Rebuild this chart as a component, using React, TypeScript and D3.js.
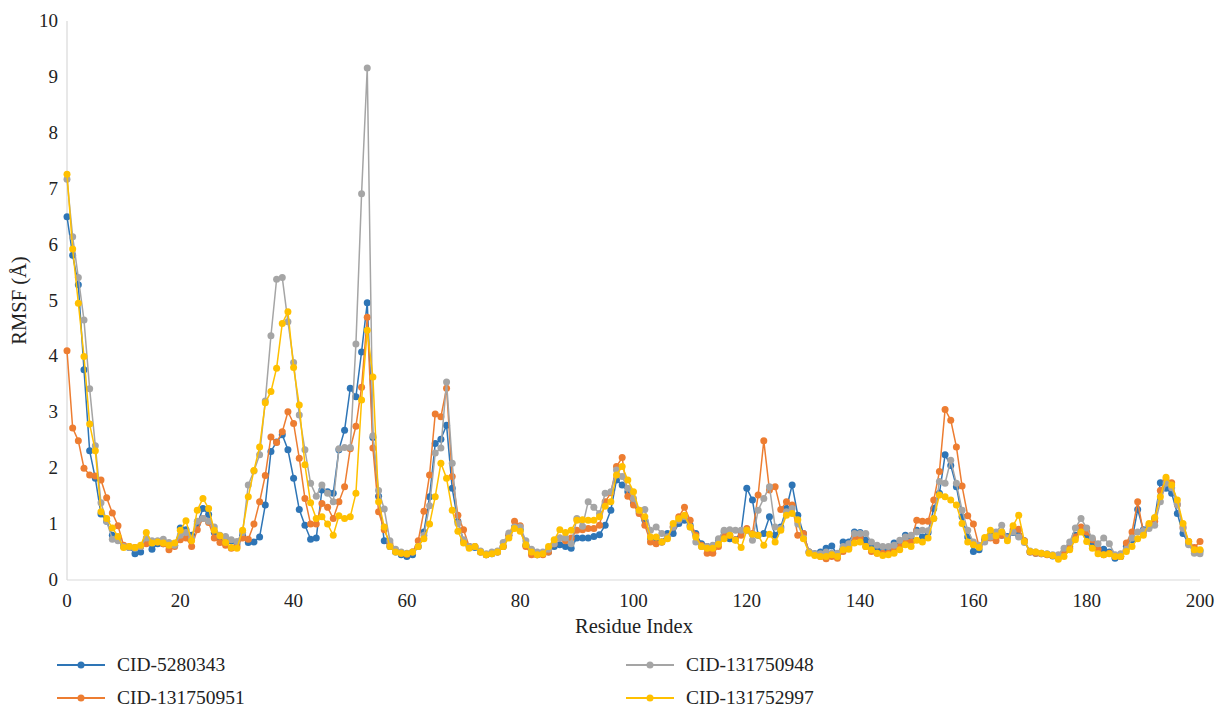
import React from "react";
import * as d3 from "d3";

const seriesNames = ["CID-5280343", "CID-131750951", "CID-131750948", "CID-131752997"];
const seriesColors = ["#2E75B6", "#ED7D31", "#A5A5A5", "#FFC000"];

const cid5280343 = [
  6.5, 5.81, 5.28, 3.76, 2.31, 1.82, 1.18, 1.05, 0.8, 0.72,
  0.6, 0.58, 0.47, 0.5, 0.72, 0.55, 0.65, 0.65, 0.62, 0.62,
  0.93, 0.9, 0.8, 1.0, 1.28, 1.17, 0.85, 0.75, 0.72, 0.7,
  0.65, 0.8, 0.67, 0.68, 0.77, 1.34, 2.3, 2.47, 2.6, 2.33,
  1.82, 1.26, 0.98, 0.73, 0.75, 1.61, 1.58, 1.55, 2.33, 2.68,
  3.43, 3.28, 4.08, 4.96, 2.55, 1.5, 0.7, 0.6, 0.5, 0.45,
  0.42, 0.45, 0.6, 0.86, 1.49, 2.44, 2.52, 2.77, 1.64, 1.05,
  0.7, 0.6, 0.58, 0.5, 0.45, 0.47, 0.5, 0.6, 0.8, 0.95,
  0.9, 0.62, 0.5, 0.45, 0.47, 0.5, 0.6, 0.63, 0.6, 0.57,
  0.75, 0.75, 0.75, 0.78, 0.81, 0.98, 1.25, 1.79, 1.7, 1.58,
  1.37, 1.22, 1.07, 0.75, 0.75, 0.68, 0.83, 0.83, 1.01, 1.07,
  0.98, 0.83, 0.65, 0.6, 0.55, 0.71, 0.86, 0.74, 0.72, 0.86,
  1.64, 1.43, 0.8, 0.83, 1.13, 0.8, 0.95, 1.28, 1.7, 1.16,
  0.83, 0.5, 0.47, 0.5, 0.57, 0.61, 0.45, 0.68, 0.68, 0.86,
  0.85, 0.71, 0.6, 0.57, 0.54, 0.56, 0.66, 0.68, 0.8, 0.77,
  0.89, 0.77, 0.85, 1.28, 1.55, 2.24, 2.05, 1.67, 1.13, 0.77,
  0.51, 0.54, 0.72, 0.8, 0.8, 0.8, 0.78, 0.85, 0.8, 0.7,
  0.5, 0.48, 0.47, 0.46, 0.43, 0.42, 0.5, 0.6, 0.8, 0.88,
  0.8, 0.62, 0.55, 0.55, 0.5, 0.39, 0.42, 0.6, 0.72, 1.26,
  0.9, 0.95, 1.1, 1.74, 1.64, 1.55, 1.19, 0.83, 0.65, 0.52,
  0.52,
];

const cid131750951 = [
  4.1, 2.72, 2.49, 2.0, 1.88, 1.86, 1.79, 1.47, 1.2, 0.97,
  0.62, 0.6, 0.58, 0.6, 0.65, 0.68, 0.68, 0.65, 0.54, 0.6,
  0.72, 0.75, 0.6, 0.9, 1.1, 1.03, 0.75, 0.67, 0.62, 0.57,
  0.6, 0.75, 0.73, 1.0, 1.4, 1.87, 2.56, 2.46, 2.65, 3.01,
  2.8, 2.18, 1.46, 1.0, 1.0, 1.37, 1.3, 1.1, 1.4, 1.67,
  2.35, 2.75, 3.45, 4.7, 2.36, 1.22, 0.9, 0.65, 0.52, 0.48,
  0.46, 0.5, 0.7, 1.23, 1.88, 2.97, 2.92, 3.43, 1.85, 1.16,
  0.9, 0.6, 0.6, 0.5, 0.45, 0.48, 0.5, 0.6, 0.8, 1.05,
  0.97, 0.6, 0.45, 0.45, 0.45, 0.5, 0.65, 0.75, 0.7, 0.75,
  0.89, 0.9, 0.92, 0.92, 0.98, 1.4, 1.56, 2.03, 2.19, 1.5,
  1.34, 1.19, 0.98, 0.68, 0.65, 0.68, 0.77, 0.95, 1.13, 1.3,
  1.07, 0.8, 0.62, 0.48, 0.48, 0.6, 0.8, 0.8, 0.72, 0.8,
  0.92, 0.83, 1.52, 2.49, 1.61, 1.67, 1.26, 1.4, 1.34, 0.8,
  0.83, 0.5, 0.45, 0.42, 0.38, 0.42, 0.39, 0.51, 0.58, 0.77,
  0.75, 0.6, 0.51, 0.48, 0.48, 0.48, 0.54, 0.6, 0.68, 0.68,
  1.07, 1.05, 1.05, 1.43, 1.94, 3.05, 2.86, 2.38, 1.68, 1.15,
  1.0, 0.6, 0.7, 0.75, 0.7, 0.8, 0.75, 0.9, 0.91, 0.7,
  0.5, 0.48, 0.47, 0.45, 0.44, 0.42, 0.5, 0.57, 0.77, 0.95,
  0.86, 0.72, 0.55, 0.45, 0.48, 0.42, 0.42, 0.66, 0.86, 1.4,
  0.85, 0.98, 1.05, 1.6, 1.79, 1.74, 1.35, 0.95, 0.69, 0.58,
  0.69,
];

const cid131750948 = [
  7.17, 6.14, 5.41, 4.65, 3.42, 2.4, 1.38, 1.05, 0.73, 0.7,
  0.6, 0.58, 0.57, 0.6, 0.75, 0.7, 0.7, 0.73, 0.67, 0.62,
  0.8, 0.85, 0.75, 1.05, 1.1, 1.05, 0.95, 0.8, 0.78, 0.72,
  0.69, 0.85, 1.7, 1.95, 2.24, 3.2, 4.37, 5.38, 5.41, 4.62,
  3.89, 2.95, 2.33, 1.73, 1.5, 1.7, 1.55, 1.4, 2.35, 2.37,
  2.37, 4.22, 6.91, 9.16, 2.58, 1.6, 1.27, 0.7, 0.55, 0.5,
  0.48, 0.5, 0.6, 0.8, 1.33, 2.27, 2.36, 3.54, 2.09, 1.01,
  0.72, 0.6, 0.6, 0.52, 0.47, 0.5, 0.52, 0.67, 0.84, 0.95,
  0.95, 0.7, 0.55, 0.5, 0.5, 0.55, 0.65, 0.75, 0.75, 0.65,
  1.1, 0.96, 1.4, 1.3, 1.19, 1.55, 1.58, 1.97, 1.85, 1.64,
  1.46, 1.25, 1.26, 0.89, 0.95, 0.83, 0.77, 0.95, 1.07, 1.13,
  0.95, 0.68, 0.6, 0.6, 0.62, 0.74, 0.89, 0.9, 0.89, 0.89,
  0.89, 0.71, 1.25, 1.46, 1.67, 0.95, 0.92, 1.22, 1.28, 1.0,
  0.75, 0.5, 0.47, 0.47, 0.5, 0.48, 0.48, 0.6, 0.65, 0.83,
  0.83, 0.83, 0.68, 0.62, 0.6, 0.6, 0.62, 0.71, 0.77, 0.8,
  0.86, 0.89, 0.88, 1.1, 1.76, 1.73, 2.14, 1.73, 1.25, 0.89,
  0.68, 0.62, 0.68, 0.77, 0.86, 0.98, 0.75, 0.86, 0.77, 0.67,
  0.52, 0.5, 0.48, 0.47, 0.45, 0.45, 0.57, 0.68, 0.93, 1.1,
  0.93, 0.75, 0.65, 0.75, 0.65, 0.45, 0.47, 0.55, 0.75, 0.86,
  0.88, 0.92, 0.98, 1.4, 1.73, 1.65, 1.35, 0.92, 0.63, 0.48,
  0.47,
];

const cid131752997 = [
  7.26, 5.92, 4.95, 4.0, 2.79, 2.31, 1.22, 1.1, 0.93, 0.78,
  0.58, 0.6, 0.58, 0.62, 0.85, 0.66, 0.68, 0.66, 0.62, 0.66,
  0.89, 1.06, 0.7, 1.25, 1.46, 1.28, 0.89, 0.79, 0.67, 0.58,
  0.57, 0.89, 1.49, 1.96, 2.38, 3.17, 3.37, 3.79, 4.59, 4.8,
  3.8, 3.13, 2.06, 1.38, 1.1, 1.13, 1.0, 0.8, 1.15, 1.1,
  1.13, 1.55, 3.22, 4.47, 3.63, 1.4, 0.95, 0.6, 0.5, 0.48,
  0.47, 0.5, 0.6, 0.74, 1.0, 1.49, 2.09, 1.82, 1.25, 0.87,
  0.66, 0.57, 0.6, 0.5, 0.45, 0.47, 0.5, 0.6, 0.75, 0.92,
  0.87, 0.63, 0.5, 0.45, 0.47, 0.6, 0.72, 0.9, 0.85, 0.89,
  1.07, 1.08, 1.07, 1.07, 1.13, 1.32, 1.4, 1.88, 2.03, 1.79,
  1.58, 1.25, 1.13, 0.77, 0.77, 0.68, 0.74, 1.01, 1.1, 1.16,
  0.95, 0.77, 0.6, 0.57, 0.57, 0.64, 0.74, 0.8, 0.71, 0.58,
  0.89, 0.82, 0.8, 0.62, 0.82, 0.68, 0.89, 1.16, 1.19, 1.08,
  0.74, 0.48, 0.44, 0.42, 0.42, 0.45, 0.42, 0.54, 0.55, 0.66,
  0.68, 0.6, 0.54, 0.48, 0.44, 0.45, 0.48, 0.54, 0.63, 0.6,
  0.71, 0.68, 0.75, 1.1, 1.52, 1.49, 1.43, 1.34, 1.01, 0.68,
  0.63, 0.58, 0.76, 0.89, 0.79, 0.86, 0.7, 0.97, 1.16, 0.69,
  0.51, 0.5, 0.48, 0.46, 0.44, 0.37, 0.42, 0.54, 0.72, 0.86,
  0.69, 0.57, 0.47, 0.45, 0.47, 0.42, 0.42, 0.51, 0.6, 0.74,
  0.8, 1.01, 1.12, 1.49, 1.84, 1.7, 1.43, 1.01, 0.69, 0.54,
  0.54,
];

const seriesValues = [cid5280343, cid131750951, cid131750948, cid131752997];
const xTicks = [0, 20, 40, 60, 80, 100, 120, 140, 160, 180, 200];
const yTicks = [0, 1, 2, 3, 4, 5, 6, 7, 8, 9, 10];

const W = 1218;
const H = 709;
const FONT = "'Liberation Serif', 'DejaVu Serif', serif";
const textStyle = { fontFamily: FONT };

export default function App() {
  const x = d3.scaleLinear().domain([0, 200]).range([67, 1200]);
  const y = d3.scaleLinear().domain([0, 10]).range([580, 21]);
  const line = d3
    .line<number>()
    .x((_, i) => x(i))
    .y((d) => y(d));

  const legendPos = [
    { lx: 57, ly: 665 },
    { lx: 57, ly: 698 },
    { lx: 626, ly: 665 },
    { lx: 626, ly: 698 },
  ];

  return (
    <svg
      width={W}
      height={H}
      style={{ position: "absolute", left: 0, top: 0, background: "#fff", fontFamily: FONT }}
    >
      <rect x={0} y={0} width={W} height={H} fill="#fff" />
      <line x1={x(0)} x2={x(0)} y1={y(10)} y2={y(0)} stroke="#d9d9d9" strokeWidth={1.2} />
      <line x1={x(0)} x2={x(200)} y1={y(0)} y2={y(0)} stroke="#d9d9d9" strokeWidth={1.2} />
      {yTicks.map((t) => (
        <text key={"y" + t} x={58} y={y(t) + 6} textAnchor="end" fontSize={19} fill="#222" style={textStyle}>
          {t}
        </text>
      ))}
      {xTicks.map((t) => (
        <text key={"x" + t} x={x(t)} y={607} textAnchor="middle" fontSize={19} fill="#222" style={textStyle}>
          {t}
        </text>
      ))}
      <text x={634} y={633} textAnchor="middle" fontSize={20.5} fill="#222" style={textStyle}>
        Residue Index
      </text>
      <text
        transform={`translate(26, ${y(5)}) rotate(-90)`}
        textAnchor="middle"
        fontSize={20.5}
        fill="#222"
        style={textStyle}
      >
        RMSF (Å)
      </text>
      {seriesValues.map((vals, si) => (
        <g key={"s" + si}>
          <path d={line(vals) || ""} fill="none" stroke={seriesColors[si]} strokeWidth={1.5} />
          {vals.map((v, i) => (
            <circle key={i} cx={x(i)} cy={y(v)} r={3.5} fill={seriesColors[si]} />
          ))}
        </g>
      ))}
      {seriesNames.map((name, si) => {
        const p = legendPos[si];
        return (
          <g key={"l" + si}>
            <line x1={p.lx} x2={p.lx + 48} y1={p.ly} y2={p.ly} stroke={seriesColors[si]} strokeWidth={2} />
            <circle cx={p.lx + 24} cy={p.ly} r={3.5} fill={seriesColors[si]} />
            <text x={p.lx + 60} y={p.ly + 6} fontSize={19.5} fill="#222" style={textStyle}>
              {name}
            </text>
          </g>
        );
      })}
    </svg>
  );
}
